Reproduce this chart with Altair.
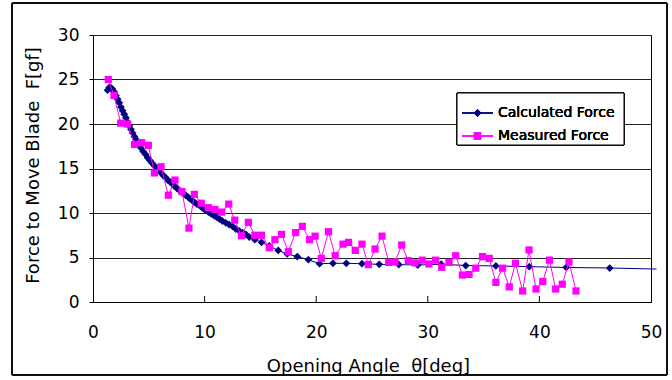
import altair as alt
import pandas as pd

# ---------------- data ----------------
calc_angle = [1.3, 1.45, 1.6, 1.75, 1.9, 2.05, 2.2, 2.35, 2.5, 2.65, 2.8, 2.95, 3.1, 3.25,
              3.4, 3.55, 3.7, 3.85, 4.0, 4.15, 4.3, 4.5, 4.7, 4.9, 5.1, 5.3, 5.5, 5.7, 5.9,
              6.1, 6.3, 6.5, 6.7, 6.9, 7.1, 7.3, 7.5, 7.7, 7.9, 8.1, 8.3, 8.5, 8.7, 8.9,
              9.1, 9.3, 9.5, 9.7, 9.9, 10.1, 10.35, 10.6, 10.85, 11.1, 11.35, 11.6, 11.9,
              12.2, 12.5, 12.8, 13.1, 13.4, 13.7, 14.0, 14.5, 15.1, 15.8, 16.6, 17.4, 18.3,
              19.3, 20.3, 21.5, 22.7, 24.1, 25.65, 27.4, 29.1, 31.2, 33.4, 36.1, 39.1,
              42.4, 46.3, 50.5]
calc_force = [23.8, 24.1, 24.1, 23.9, 23.6, 23.2, 22.8, 22.4, 21.9, 21.5, 21.1, 20.7,
              20.2, 19.8, 19.4, 19.0, 18.6, 18.3, 17.9, 17.6, 17.3, 16.9, 16.6, 16.2, 15.9,
              15.6, 15.3, 15.0, 14.8, 14.5, 14.2, 14.0, 13.7, 13.5, 13.3, 13.0, 12.8, 12.6,
              12.4, 12.2, 12.0, 11.8, 11.6, 11.4, 11.2, 11.0, 10.9, 10.7, 10.5, 10.3, 10.1,
              9.9, 9.7, 9.5, 9.3, 9.1, 8.9, 8.7, 8.5, 8.2, 8.0, 7.8, 7.6, 7.3, 7.0, 6.7,
              6.3, 5.8, 5.4, 5.1, 4.75, 4.3, 4.35, 4.35, 4.3, 4.23, 4.2, 4.15, 4.25, 4.1,
              4.05, 3.97, 3.88, 3.82, 3.7]

meas_angle = [1.37, 1.88, 2.48, 3.1, 3.73, 4.36, 4.96, 5.5, 6.1, 6.75, 7.35, 7.97, 8.6,
              9.08, 9.7, 10.33, 10.93, 11.53, 12.16, 12.7, 13.29, 13.92, 14.5, 15.1, 15.8,
              16.3, 16.9, 17.5, 18.16, 18.76, 19.4, 19.9, 20.46, 21.1, 21.7, 22.4, 22.9,
              23.5, 24.1, 24.67, 25.27, 25.9, 26.5, 27.06, 27.66, 28.25, 28.85, 29.5, 30.1,
              30.7, 31.25, 31.9, 32.5, 33.1, 33.7, 34.3, 34.9, 35.5, 36.1, 36.7, 37.3,
              37.85, 38.5, 39.07, 39.7, 40.3, 40.9, 41.46, 42.05, 42.65, 43.28]
meas_force = [25.0, 23.2, 20.1, 20.0, 17.7, 17.9, 17.6, 14.5, 15.2, 12.0, 13.7, 12.4, 8.3,
              12.1, 11.1, 10.6, 10.4, 10.1, 11.0, 9.2, 7.45, 8.95, 7.5, 7.5, 6.1, 7.0, 7.6,
              5.65, 7.8, 8.5, 7.0, 7.4, 4.9, 7.9, 5.2, 6.5, 6.7, 5.8, 6.5, 4.2, 5.95, 7.4,
              4.45, 4.5, 6.4, 4.65, 4.4, 4.7, 4.27, 4.7, 3.9, 4.45, 5.2, 3.03, 3.1, 3.8,
              5.1, 4.9, 2.2, 3.8, 1.7, 4.35, 1.24, 5.85, 1.46, 2.3, 4.7, 1.46, 2.0, 4.5, 1.24]

series_names = ["Calculated Force", "Measured Force"]
series_colors = ["#000080", "#FF00FF"]
x_ticks = [0, 10, 20, 30, 40, 50]
y_ticks = [0, 5, 10, 15, 20, 25, 30]
inner_x_ticks = [10, 20, 30, 40]

NB = "\u00a0"
x_title = "Opening Angle" + NB * 2 + "θ[deg]"
y_title = "Force to Move Blade" + NB * 2 + "F[gf]"

calc = pd.DataFrame({"angle": calc_angle, "force": calc_force})
meas = pd.DataFrame({"angle": meas_angle, "force": meas_force})
ticks_df = pd.DataFrame({"angle": inner_x_ticks})

# ---------------- layout ----------------
W, H = 558, 267
LEFT, TOP = 93, 35
FONT = "DejaVu Sans"

x_scale = alt.Scale(domain=[0, 50], nice=False, zero=False)
y_scale = alt.Scale(domain=[0, 30], nice=False)

x_axis = alt.Axis(values=x_ticks, title=x_title, ticks=False, tickSize=0,
                  labelPadding=22, labelFlush=False, grid=False, domainColor="black",
                  labelFont=FONT, labelFontSize=17, labelColor="black",
                  titleFont=FONT, titleFontSize=18, titleFontWeight="normal",
                  titleColor="black", titleX=275, titleY=64,
                  titleBaseline="middle", titleAlign="center")
y_axis = alt.Axis(values=y_ticks, title=y_title, tickSize=4, tickColor="black",
                  labelPadding=10, labelFlush=False, grid=True, gridColor="#222222",
                  gridWidth=1, domainColor="black",
                  labelFont=FONT, labelFontSize=17, labelColor="black",
                  titleFont=FONT, titleFontSize=18, titleFontWeight="normal",
                  titleColor="black", titleX=-60, titleY=130, titleAngle=270,
                  titleBaseline="middle", titleAlign="center")

X = alt.X("angle:Q", scale=x_scale, axis=x_axis)
Y = alt.Y("force:Q", scale=y_scale, axis=y_axis)

calc_line = alt.Chart(calc).mark_line(color=series_colors[0], strokeWidth=1).encode(
    x=X, y=Y, order="angle:Q",
)
calc_pts = alt.Chart(calc).transform_filter(alt.datum.angle <= 50).mark_point(
    shape="diamond", filled=True, size=60, opacity=1, color=series_colors[0]
).encode(x=X, y=Y)
meas_line = alt.Chart(meas).mark_line(color=series_colors[1], strokeWidth=1).encode(
    x=X, y=Y, order="angle:Q",
)
meas_pts = alt.Chart(meas).mark_point(
    shape="square", filled=True, size=52, opacity=1, color=series_colors[1]
).encode(x=X, y=Y)
inner_ticks = alt.Chart(ticks_df).mark_rule(color="black", strokeWidth=1).encode(
    x=X, y=alt.value(H), y2=alt.value(H - 6),
)

# outer chart frame
frame = alt.Chart(ticks_df).mark_rect(fill="white", fillOpacity=0, stroke="black",
                                       strokeWidth=1).encode(
    x=alt.value(12 - LEFT), x2=alt.value(667 - LEFT),
    y=alt.value(3 - TOP), y2=alt.value(375 - TOP),
)

# legend (drawn manually to mimic Excel line+marker symbols)
lx0, lx1, ly0, ly1 = 457 - LEFT, 624 - LEFT, 93 - TOP, 145 - TOP
rows_y = [113 - TOP, 136 - TOP]
sym_x0, sym_x1, sym_xc, text_x = 462 - LEFT, 493 - LEFT, 477.5 - LEFT, 498 - LEFT
legend_layers = [
    alt.Chart(ticks_df).mark_rect(fill="white", stroke="black", strokeWidth=1).encode(
        x=alt.value(lx0), x2=alt.value(lx1), y=alt.value(ly0), y2=alt.value(ly1))
]
shapes = ["diamond", "square"]
sizes = [60, 52]
for i, name in enumerate(series_names):
    legend_layers.append(
        alt.Chart(ticks_df).mark_rule(color=series_colors[i], strokeWidth=1).encode(
            x=alt.value(sym_x0), x2=alt.value(sym_x1), y=alt.value(rows_y[i])))
    legend_layers.append(
        alt.Chart(ticks_df).mark_point(shape=shapes[i], filled=True, size=sizes[i],
                                       opacity=1, color=series_colors[i]).encode(
            x=alt.value(sym_xc), y=alt.value(rows_y[i])))
    legend_layers.append(
        alt.Chart(ticks_df).mark_text(align="left", baseline="middle", font=FONT,
                                      fontSize=14, color="black").encode(
            x=alt.value(text_x), y=alt.value(rows_y[i]), text=alt.value(name)))

chart = alt.layer(
    calc_line, frame, inner_ticks, calc_pts, meas_line, meas_pts, *legend_layers
).properties(
    width=W, height=H,
    autosize=alt.AutoSizeParams(type="none"),
    padding={"left": LEFT, "top": TOP, "right": 672 - LEFT - W, "bottom": 380 - TOP - H},
    background="white",
).configure_view(
    stroke="black", strokeWidth=1
)

chart.save("out.html", embed_options={"renderer": "svg", "actions": False})
